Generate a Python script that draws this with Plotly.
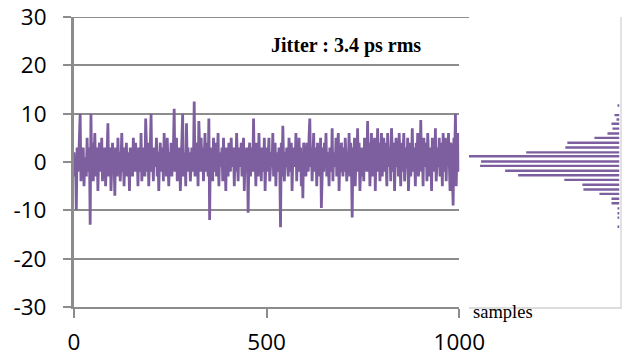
import plotly.graph_objects as go

# Jitter samples (read/, every 2nd sample)
jitter_ps = [
    2, -3, 1, -10, 3, -2, 0, 4, 10, -4, 2, -1, 3, -5, 1, 0, -3, 5, -2, 1, 3, -13, 10, -2, 4,
    -4, 2, 6, -1, -3, 3, -6, 1, 4, -2, 0, 5, -4, 2, -1, 3, -5, 0, 2, 8, -3, -1, 3, -6, 1,
    4, -2, 0, -7, 3, 1, -3, 5, -1, 2, -4, 0, 6, -2, 1, -5, 3, -1, 4, -3, 2, 0, -6, 3, -1,
    1, -3, 5, 0, -2, 4, -1, 2, -5, 3, 0, -2, 6, -4, 1, 3, -1, -3, 9, 0, -2, 4, -5, 1, 3,
    10, -2, 1, -4, 3, 0, -1, 5, -3, 2, -6, 1, 4, -2, 0, 3, -4, 6, -1, 2, -3, 5, 0, -5, 2,
    -1, 4, -3, 1, 3, 11, -2, 0, 5, -4, 2, -1, 3, -6, 1, 4, 10, -3, 0, 2, -5, 8, -1, 3, -2,
    2, -4, 1, 3, -2, 0, 12.5, -3, 4, -1, 2, -5, 8.5, 0, -2, 5, -1, 3, -4, 1, 6, -2, 0, 4, -3,
    9, -12, 3, -1, 2, -4, 5, 0, -2, 4, -3, 1, 6, -5, 2, 0, -1, 3, -4, 5, -2, 1, -6, 3, 0,
    -3, 4, 1, -2, 5, -1, 0, 3, -5, 2, -2, 6, 1, -4, 3, 0, -1, 4, -3, 2, 5, -6, 1, -2, 3,
    1, -10.5, 2, 4, -3, 0, 3, -2, 9, -1, 2, -5, 4, 0, -3, 6, -1, 2, -4, 3, 1, -2, 5, -6, 0,
    3, -2, 1, 5, -4, 0, 2, -1, 6, -3, 1, 4, -5, 2, 0, -2, 3, -1, -13.5, 4, -3, 7.5, 0, -4, 2,
    -1, 3, 0, -3, 5, 2, -2, 4, -6, 1, 3, -1, 0, 6, -4, 2, -2, 5, -1, 3, -5, 1, -7.5, 4, 0,
    2, -3, 4, 0, -2, 5, 9, -1, 3, -4, 1, 6, -2, 0, 3, -5, 4, -1, 2, -3, 5, -9.5, 1, 3, -2,
    4, -1, 6, -3, 2, 0, -5, 3, 1, -2, 7, -4, 2, 0, -1, 5, -3, 3, 6, -6, 1, -2, 4, 0, -3,
    3, -2, 5, 1, -4, 2, 0, 6, -3, 4, -1, -11.5, 3, 0, 5, -5, 2, -2, 7, -1, 4, -6, 1, 3, -3,
    2, -4, 5, 0, 3, -2, 8.5, -1, 4, -5, 2, 6, -3, 1, 0, 5, -6, 3, -1, 7, -2, 4, -4, 2, 6,
    -3, 1, 5, -2, 4, 0, -5, 6, 2, -1, 3, -4, 7, 1, -2, 4, -6, 2, 5, -1, 3, -3, 6, 0, -5,
    4, -2, 2, 6, -4, 1, 3, -1, 5, -6, 2, 4, -3, 0, 7, -2, 3, 1, -5, 4, -1, 6, -3, 2, 0,
    8.7, -2, 3, -5, 5, 1, -1, 4, -4, 6, 0, -3, 3, 2, -6, 5, -1, 4, -2, 7, -4, 1, 3, -1, 5,
    -3, 4, 1, -5, 6, 2, -2, 5, -4, 3, 0, 6, -1, -6, 4, 2, -3, -9, 5, 1, 10, -5, 3, 6, -2,
]
sample_idx = [2 * i for i in range(len(jitter_ps))]

# Histogram of the jitter (bin centre in ps, count)
hist_bin_ps = [11.7, 9.7, 8.8, 7.9, 6.9, 5.9, 5.0, 4.0, 3.0, 2.0, 1.2, 0.1, -0.8, -1.8,
               -2.75, -3.7, -4.7, -5.7, -6.6, -7.6, -8.55, -9.6, -10.6, -11.5, -13.4]
hist_count = [2, 5, 3, 8, 7, 12, 25, 52, 54, 93, 150, 138, 139, 114,
              101, 55, 37, 36, 20, 8, 8, 2, 2, 2, 2]

y_ticks = [-30, -20, -10, 0, 10, 20, 30]
y_tick_labels = ["-30", "-20", "-10", "0", "10", "20", "30"]
x_ticks = [0, 500, 1000]
x_tick_labels = ["0", "500", "1000"]

purple = "#7D5FA0"
grid = "#8C8C8C"

W, H = 624, 357

fig = go.Figure()
fig.add_trace(go.Scatter(x=sample_idx, y=jitter_ps, mode="lines",
                         line=dict(color=purple, width=2.8), xaxis="x", yaxis="y",
                         showlegend=False, hoverinfo="skip"))
fig.add_trace(go.Bar(x=hist_count, y=hist_bin_ps, orientation="h", width=0.5,
                     marker=dict(color=purple, line=dict(width=0)),
                     xaxis="x2", yaxis="y2", showlegend=False))

fig.update_layout(
    width=W, height=H,
    margin=dict(l=0, r=0, t=17, b=50, autoexpand=False),
    paper_bgcolor="white", plot_bgcolor="white",
    font=dict(family="Open Sans", size=22.5, color="black"),
    xaxis=dict(domain=[74 / W, 459.3 / W], range=[0, 1000], tickvals=x_ticks,
               ticktext=x_tick_labels, automargin=False,
               ticks="outside", ticklen=9, tickwidth=2, tickcolor=grid,
               showline=True, linecolor=grid, linewidth=2, showgrid=False,
               zeroline=False, ticklabelstandoff=5),
    yaxis=dict(range=[-30, 30], tickvals=y_ticks, ticktext=y_tick_labels,
               automargin=False, ticks="outside", ticklen=8, ticklabeloverflow="allow",
               tickwidth=2, tickcolor=grid, showline=True, linecolor=grid, linewidth=3,
               showgrid=True, gridcolor=grid, gridwidth=2, zeroline=True,
               zerolinecolor=grid, zerolinewidth=2, ticklabelstandoff=12),
    xaxis2=dict(domain=[469 / W, 619.5 / W], range=[150, 0], showticklabels=False,
                automargin=False, ticks="", showgrid=False, zeroline=False, showline=True,
                linecolor="#DDDDDD", linewidth=2, anchor="y2"),
    yaxis2=dict(range=[-30, 30], showticklabels=False, ticks="", showgrid=False,
                automargin=False, zeroline=False, showline=True, linecolor="#E2E2E2",
                linewidth=2, side="right", anchor="x2"),
    shapes=[
        # top gridline at y = 30 (with its outside tick), which Plotly culls at the edge
        dict(type="line", xref="paper", yref="y", x0=66 / W, x1=469 / W, y0=30, y1=30,
             line=dict(color=grid, width=2), layer="below"),
    ],
    annotations=[
        dict(x=706, y=24.2, xref="x", yref="y", text="<b>Jitter : 3.4 ps rms</b>",
             showarrow=False, font=dict(family="Liberation Serif", size=20, color="black")),
        dict(x=471 / W, y=-0.017, xref="paper", yref="paper", text="samples",
             xanchor="left", yanchor="middle", showarrow=False,
             font=dict(family="Liberation Serif", size=18.5, color="black")),
    ],
)

# remove the browser's default 8px body margin so the figure fills the window exactly
fig.write_html("out.html", config={"displayModeBar": False},
               post_script="document.body.style.margin='0px';document.body.style.overflow='hidden';")
